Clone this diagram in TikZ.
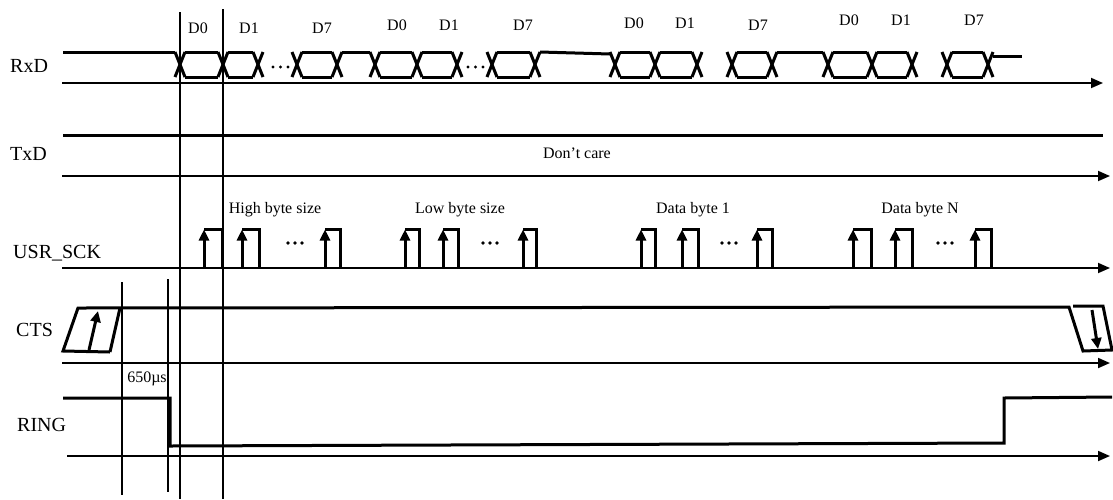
\documentclass[tikz,border=0pt]{standalone}
\usepackage{fontspec}
\setmainfont{Liberation Serif}
\usetikzlibrary{arrows.meta}
\begin{document}
\begin{tikzpicture}[x=1pt,y=-1pt,
  sig/.style={line width=3pt, line join=miter},
  axis/.style={line width=1.8pt,-{Triangle[width=10pt,length=12pt]}},
  guide/.style={line width=1.2pt},
  lbl/.style={font=\fontsize{20}{22}\selectfont, anchor=base west, inner sep=0pt},
  sm/.style={font=\fontsize{16}{18}\selectfont, anchor=base, inner sep=0pt},
  clk/.style={line width=3pt,-{Triangle[width=10pt,length=11pt]}},
  dot/.style={fill=black, draw=none},
]
\useasboundingbox (0,0) rectangle (1113,499);

% guide lines
\draw[guide] (122,282) -- (122,495);
\draw[guide] (168,279) -- (168,492);
\draw[guide] (180,12) -- (180,499);
\draw[guide] (223,9) -- (223,499);

% signal names
\node[lbl] (nrxd) at (10,72) {RxD};
\node[lbl] (ntxd) at (10,160) {TxD};
\node[lbl] (nsck) at (13,258) {USR\_SCK};
\node[lbl] (ncts) at (16,336) {CTS};
\node[lbl] (nring) at (17,431) {RING};

% axes
\draw[axis] (62,83) -- (1103,83);
\draw[axis] (62,176) -- (1110,176);
\draw[axis] (62,268) -- (1110,268);
\draw[axis] (62,363) -- (1110,363);
\draw[axis] (67,456) -- (1110,456);

% ---------- RxD ----------
\foreach \c in {180,223,258,297,337,375,417,457,492,535,615,655,697,732,772,828,872,912,947,988}{
  \draw[sig] (\c-5,52) -- (\c+5,77);
  \draw[sig] (\c-5,77) -- (\c+5,52);
}
\foreach \a/\b in {180/223,223/258,297/337,375/417,417/457,492/535,615/655,655/697,732/772,828/872,872/912,947/988}{
  \draw[sig] (\a+5,52) -- (\b-5,52);
  \draw[sig] (\a+5,77) -- (\b-5,77);
}
\draw[sig] (63,52) -- (175,52);
\draw[sig] (342,52) -- (370,52);
\draw[sig] (540,52) -- (610,54);
\draw[sig] (777,52) -- (823,52);
\draw[sig] (993,56) -- (1022,56);
\foreach \d in {273,280.5,288,468,475.5,483}{
  \fill[dot] (\d,67) circle (1.6);
}
\foreach \x/\y/\t in {198/33/D0,249/33/D1,322/33/D7,397/30/D0,449/30/D1,523/30/D7,634/28/D0,685/28/D1,758/30/D7,849/25/D0,901/25/D1,974/25/D7}{
  \node[sm] at (\x,\y) {\t};
}

% ---------- TxD ----------
\draw[sig] (63,135) -- (1103,135);
\node[sm] (dc) at (577,158) {Don’t care};

% ---------- USR_SCK ----------
\foreach \a/\b in {204/222,242/259,325/340,405/419,443/458,523/536,641/655,682/698,757/772,853/871,895/912,975/991}{
  \draw[sig] (\a,229) -- (\b,229) -- (\b,268);
  \draw[clk] (\a,268) -- (\a,229.5);
}
\foreach \c in {295,490,729,945}{
  \fill[dot] (\c-7,243) circle (1.9);
  \fill[dot] (\c,243) circle (1.9);
  \fill[dot] (\c+7,243) circle (1.9);
}
\node[sm] (hb) at (275,213) {High byte size};
\node[sm] (lb) at (460,213) {Low byte size};
\node[sm] (d1) at (693,213) {Data byte 1};
\node[sm] (dn) at (920,213) {Data byte N};

% ---------- CTS ----------
\draw[sig] (110,352) -- (63,351) -- (78,308) -- (1069,307) -- (1083,351) -- (1112,350) -- (1103,306) -- (1073,306);
\draw[sig] (110,352) -- (120,308);
\draw[clk] (89,350) -- (98,311);
\draw[clk] (1092,310) -- (1098,349);

% ---------- RING ----------
\draw[sig] (63,398) -- (170,398) -- (170,446) -- (1004,443) -- (1004,398) -- (1112,397);
\node[sm] (t650) at (147,382) {650µs};

\end{tikzpicture}
\end{document}
